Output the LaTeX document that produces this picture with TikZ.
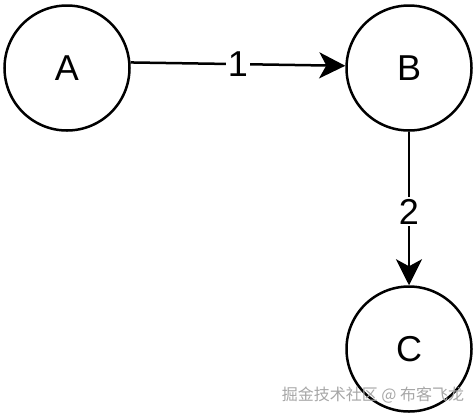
\documentclass[tikz,border=0pt]{standalone}
\usepackage{fontspec}
\setmainfont{Liberation Sans}
\newfontfamily\cjk{Noto Sans CJK SC}
\usetikzlibrary{arrows.meta}
\tikzset{
  statenode/.style={circle, draw=black, line width=2.5pt, minimum size=125pt, inner sep=0pt, font=\fontsize{36}{36}\selectfont},
  edgeline/.style={line width=2.5pt, -{Stealth[length=26pt, width=26pt, inset=7pt]}},
  edgelabel/.style={fill=white, inner sep=2pt, font=\fontsize{36}{36}\selectfont}
}
\begin{document}
\begin{tikzpicture}[x=1pt, y=-1pt]
  \useasboundingbox (0,0) rectangle (476,416);
  \node[statenode] (A) at (67,68) {A};
  \node[statenode] (B) at (409,68) {B};
  \node[statenode] (C) at (409,349) {C};
  \draw[edgeline] (A.5) -- node[edgelabel] (l1) {1} (B.178);
  \draw[edgeline] (B.south) -- node[edgelabel, pos=0.52] (l2) {2} (C.north);
  \node[text=black!35, font=\cjk\fontsize{16}{16}\selectfont] (wm) at (373,395) {掘金技术社区 @ 布客飞龙};
\end{tikzpicture}
\end{document}
